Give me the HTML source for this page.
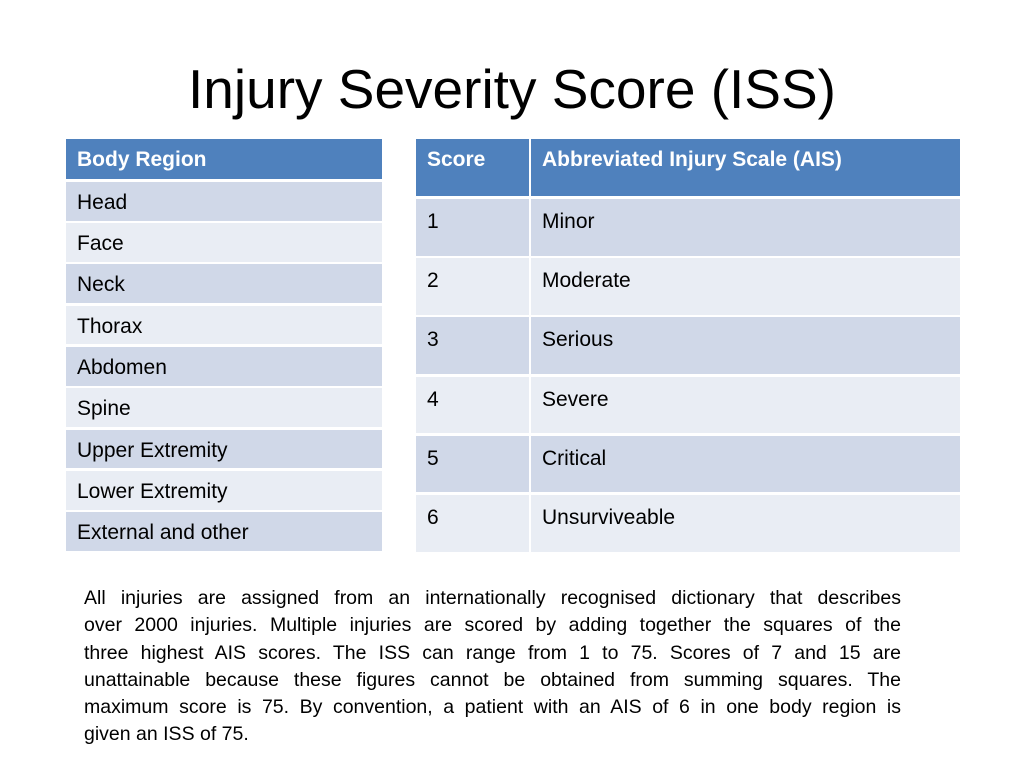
<!DOCTYPE html>
<html><head><style>
body{margin:0;width:1024px;height:765px;background:#fff;position:relative;font-family:"Liberation Sans",sans-serif;overflow:hidden}
.t{position:absolute;top:57px;left:0;width:1024px;text-align:center;font-size:55px;color:#000}
.c{position:absolute;box-sizing:border-box;font-size:21px;padding-left:11px;color:#000}
.h{background:#4F81BD;color:#fff;font-weight:bold}
.o{background:#D0D8E8}.e{background:#E9EDF4}
.p{position:absolute;left:84px;top:585px;width:817px;font-size:19.5px;line-height:27.3px;color:#000}
.p div{text-align:justify;text-align-last:justify;white-space:nowrap}
.p div.l{text-align-last:left}
</style></head><body>
<div class="t">Injury Severity Score (ISS)</div>
<div class="c h" style="left:66px;top:139px;width:316px;height:40px;line-height:42px">Body Region</div>
<div class="c o" style="left:66px;top:182px;width:316px;height:38.5px;line-height:42px">Head</div>
<div class="c e" style="left:66px;top:223px;width:316px;height:38.5px;line-height:42px">Face</div>
<div class="c o" style="left:66px;top:264px;width:316px;height:38.5px;line-height:42px">Neck</div>
<div class="c e" style="left:66px;top:305.5px;width:316px;height:38.5px;line-height:42px">Thorax</div>
<div class="c o" style="left:66px;top:347px;width:316px;height:38.5px;line-height:42px">Abdomen</div>
<div class="c e" style="left:66px;top:388px;width:316px;height:38.5px;line-height:42px">Spine</div>
<div class="c o" style="left:66px;top:429.5px;width:316px;height:38.5px;line-height:42px">Upper Extremity</div>
<div class="c e" style="left:66px;top:471px;width:316px;height:38.5px;line-height:42px">Lower Extremity</div>
<div class="c o" style="left:66px;top:512px;width:316px;height:39px;line-height:42px">External and other</div>

<div class="c h" style="left:416px;top:139px;width:113px;height:57px;line-height:42px">Score</div>
<div class="c h" style="left:531px;top:139px;width:429px;height:57px;line-height:42px">Abbreviated Injury Scale (AIS)</div>
<div id="r"></div>
<script>
var names=["Minor","Moderate","Serious","Severe","Critical","Unsurviveable"],h="";
for(var i=0;i<6;i++){var y=199+i*59.2,cl=i%2?"e":"o";
h+='<div class="c '+cl+'" style="left:416px;top:'+y+'px;width:113px;height:56.5px;line-height:45px">'+(i+1)+'</div>';
h+='<div class="c '+cl+'" style="left:531px;top:'+y+'px;width:429px;height:56.5px;line-height:45px">'+names[i]+'</div>';}
document.getElementById("r").outerHTML=h;
</script>
<div class="p">
<div>All injuries are assigned from an internationally recognised dictionary that describes</div>
<div>over 2000 injuries. Multiple injuries are scored by adding together the squares of the</div>
<div>three highest AIS scores. The ISS can range from 1 to 75. Scores of 7 and 15 are</div>
<div>unattainable because these figures cannot be obtained from summing squares. The</div>
<div>maximum score is 75. By convention, a patient with an AIS of 6 in one body region is</div>
<div class="l">given an ISS of 75.</div>
</div>
</body></html>
